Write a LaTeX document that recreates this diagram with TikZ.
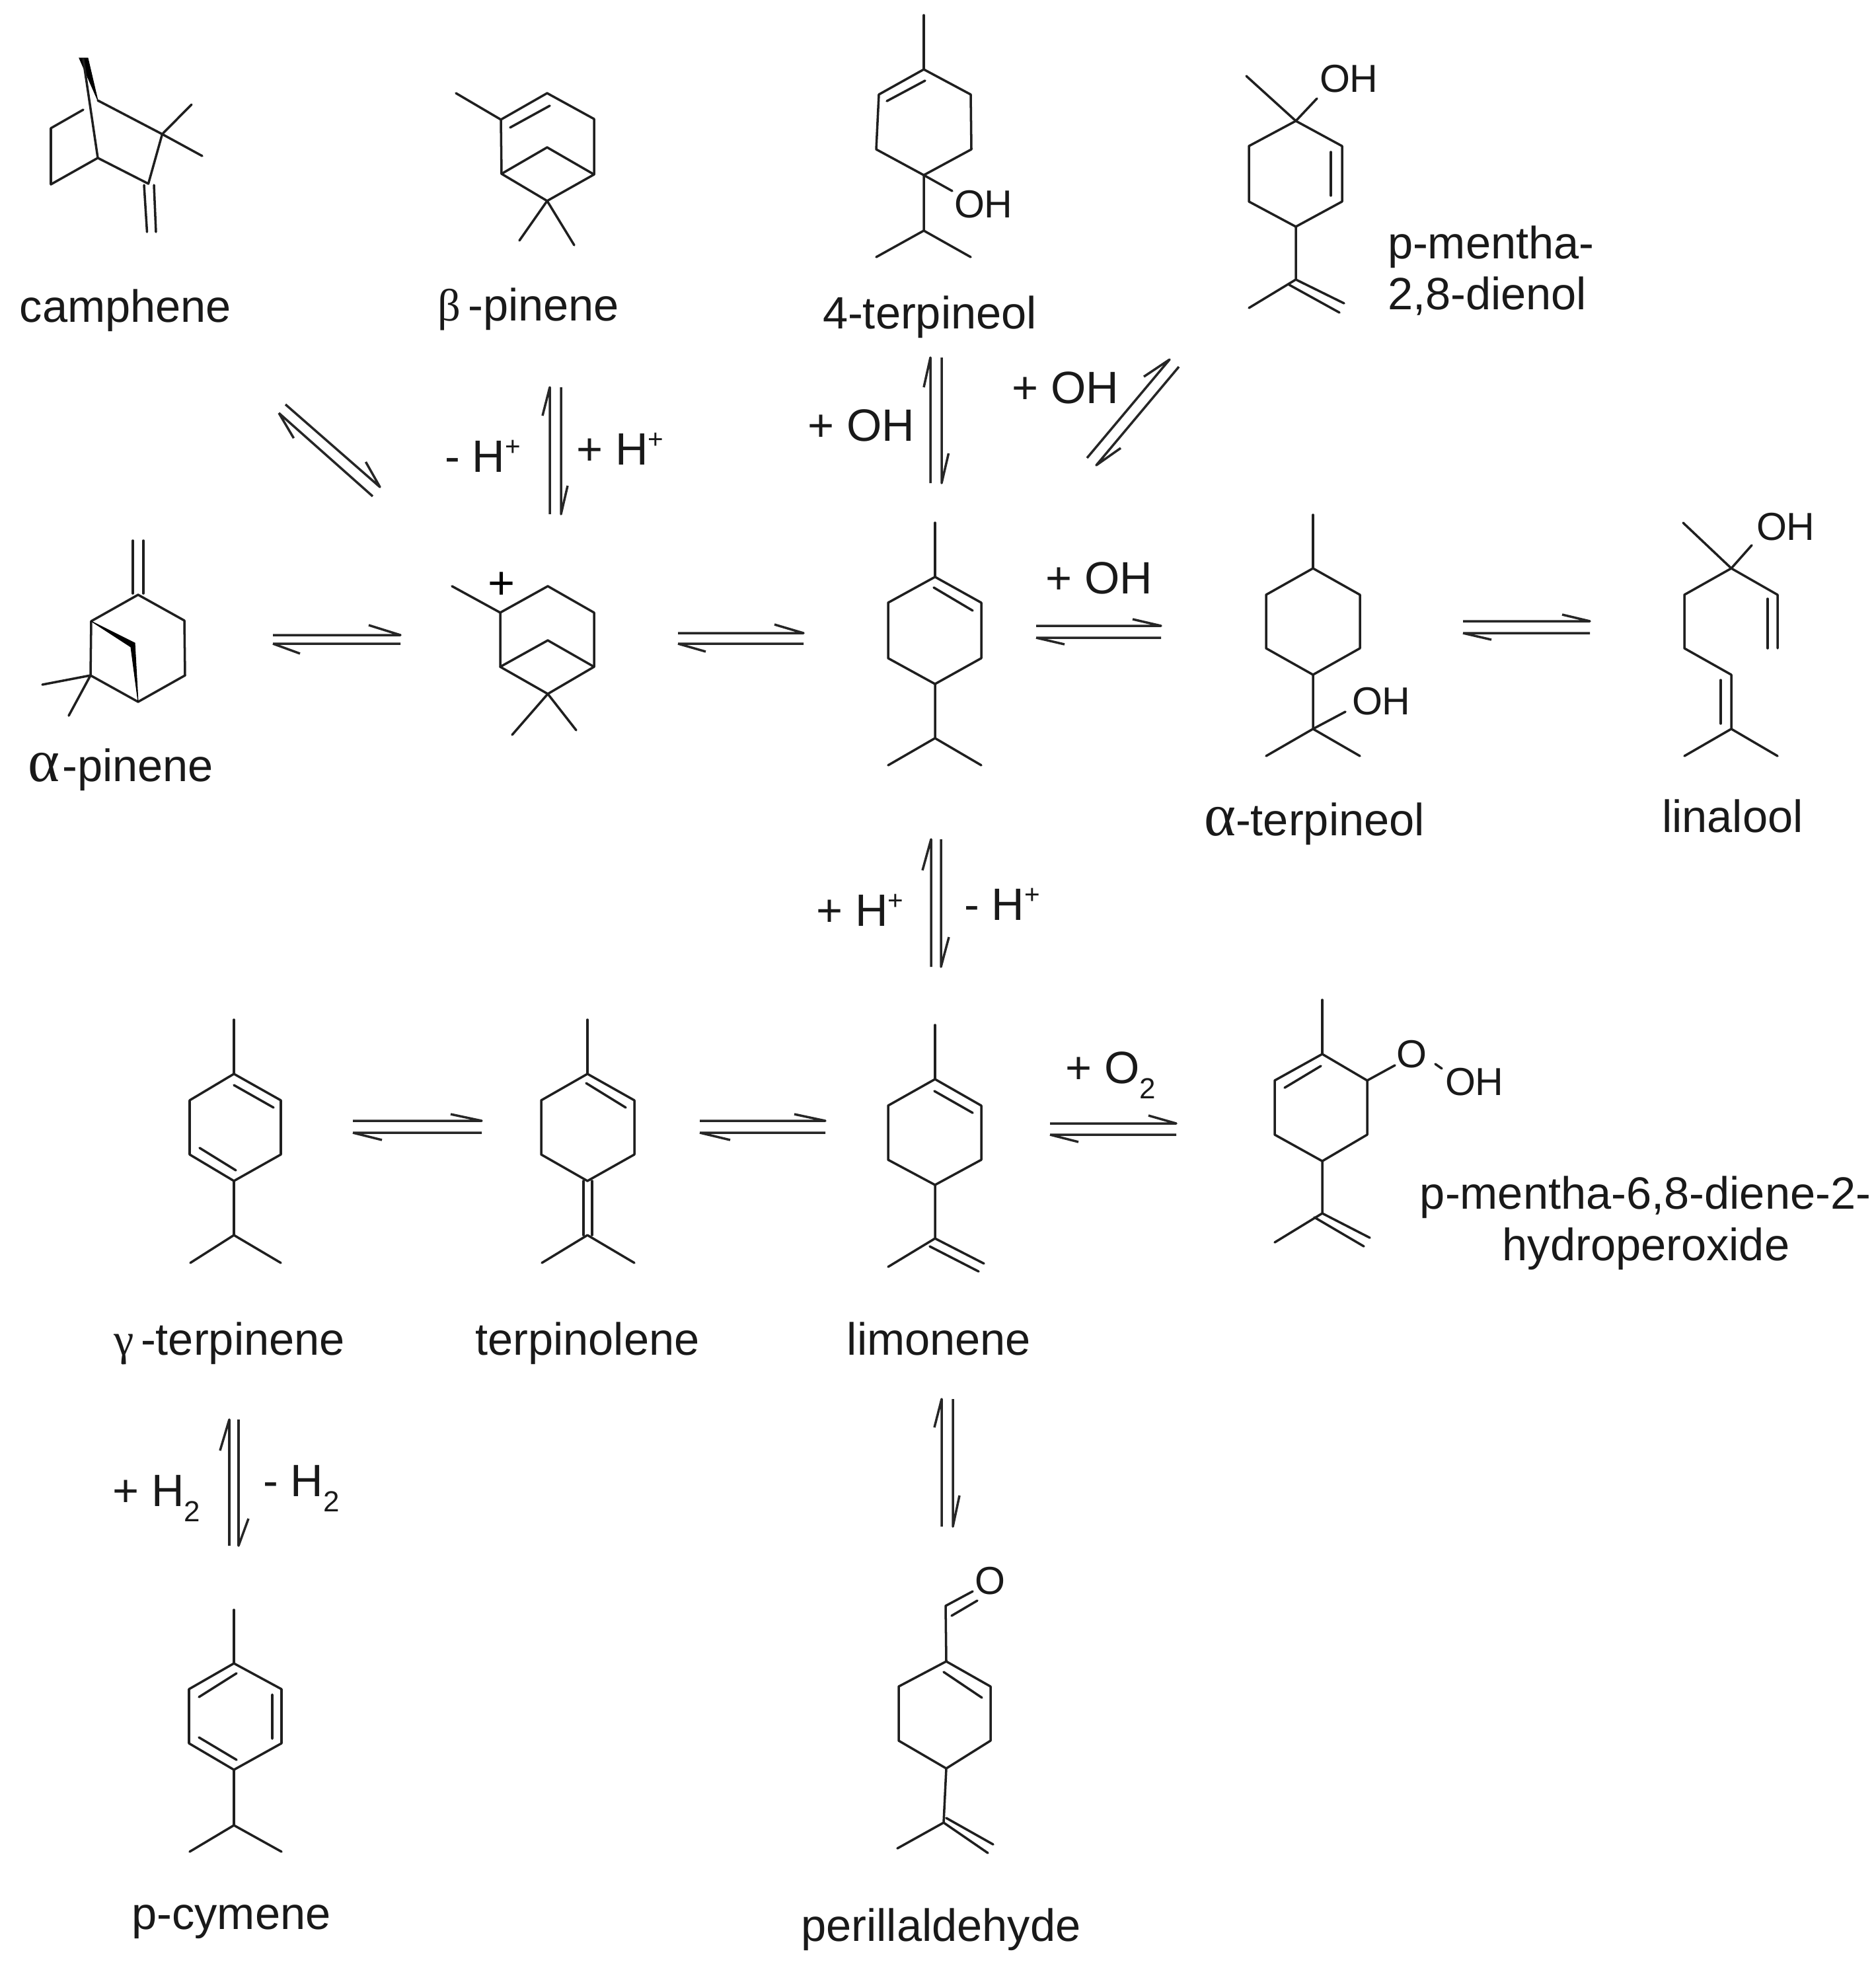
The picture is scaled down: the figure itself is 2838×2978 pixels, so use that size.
\documentclass[tikz,border=0pt]{standalone}
\usepackage{fontspec}
\setmainfont{Liberation Sans}
\newfontfamily\symf{Liberation Serif}
\newcommand{\lsup}[1]{\raisebox{0.36em}{\fontsize{11.5}{12}\selectfont #1}}
\newcommand{\lsub}[1]{\raisebox{-0.34em}{\fontsize{12.5}{13}\selectfont #1}}
\newcommand{\bigsym}[1]{{\fontsize{26}{26}\selectfont\symf #1}}
\tikzset{
  bond/.style={line width=1pt,line join=round,line cap=round,color=black!88},
  eq/.style={line width=1pt,line join=round,line cap=butt,color=black!85},
  wedge/.style={fill=black,draw=black,line width=0.3pt},
  lab/.style={anchor=base,inner sep=0pt,outer sep=0pt,font=\fontsize{19.5}{21}\selectfont,text=black!90},
  labw/.style={lab,anchor=base west},
  atom/.style={lab,font=\fontsize{16.8}{18}\selectfont},
  atomw/.style={atom,anchor=base west}
}
\begin{document}
\begin{tikzpicture}[x=0.01cm,y=-0.01cm]
\useasboundingbox (0,0) rectangle (2838,2978);
% camphene
\fill[wedge] (120,88) -- (133,88) -- (148,152) -- cycle;
\draw[bond] (126,90) -- (148,239) -- (77,279) -- (77,194) -- (126,166);
\draw[bond] (148,152) -- (245.5,203) -- (224.5,278) -- (148,239);
\draw[bond] (290,158) -- (245.5,203) -- (306,236);
\draw[bond] (218,280) -- (222.5,351) (233,280) -- (236,351);
\node[lab] (ncamphene) at (190,487) {camphene};
% beta-pinene
\draw[bond] (690,141) -- (758,181) -- (828,141) -- (899,180) -- (899,264) -- (828,304) -- (759,263) -- (758,181);
\draw[bond] (759,263) -- (828,223) -- (899,264);
\draw[bond] (786,364) -- (828,304) -- (869,371);
\draw[bond] (772,193) -- (832,160);
\node[lab] (nbeta) at (800,485) {{\symf β}\kern3pt-pinene};
% 4-terpineol
\draw[bond] (1398,23) -- (1398,105);
\draw[bond] (1398,105) -- (1469,143) -- (1470,226) -- (1398,265) -- (1326,226) -- (1330,143) -- cycle;
\draw[bond] (1342,153) -- (1400,122);
\draw[bond] (1441,289) -- (1398,265) -- (1398,349) -- (1326,389) (1398,349) -- (1469,389);
\node[atomw] (noh1) at (1444,329) {OH};
\node[lab] (nterp4) at (1407,497) {4-terpineol};
% p-mentha-2,8-dienol
\draw[bond] (1886,115) -- (1961,183) -- (1993,149);
\draw[bond] (1961,183) -- (2031,221) -- (2031,305) -- (1961,343) -- (1890,305) -- (1890,221) -- cycle;
\draw[bond] (2014,230) -- (2014,296);
\draw[bond] (1961,343) -- (1961,423) -- (1890,466) (1961,423) -- (2034,459) (1951,431) -- (2027,473);
\node[atomw] (noh2) at (1997,139) {OH};
\node[labw] (npm1) at (2100,391) {p-mentha-};
\node[labw] (npm2) at (2100,468) {2,8-dienol};
% arrows row 1
\draw[eq] (432,612) -- (575,737) -- (553.5,699) (422,625) -- (564,751) (422,625) -- (444.5,663);
\draw[eq] (821,629) -- (832,586) -- (832,778) (849,586) -- (849,778) -- (859,735);
\node[labw] (nmh) at (673,714) {- H\lsup{+}};
\node[labw] (nph) at (872,703) {+ H\lsup{+}};
\draw[eq] (1398,586) -- (1408,541) -- (1408,731) (1425,541) -- (1425,731) -- (1435.5,686);
\node[labw] (noh3) at (1222,667) {+ OH};
\node[labw] (noh4) at (1531,610) {+ OH};
\draw[eq] (1731,570) -- (1770,544) -- (1645,693) (1784,555) -- (1659,704) -- (1696,678);
% alpha-pinene
\draw[bond] (201,818) -- (201,898) (217,818) -- (217,898);
\draw[bond] (209,900) -- (279,939) -- (280,1022) -- (209,1062) -- (137,1022) -- (138,940) -- cycle;
\fill[wedge] (138,940) -- (204,973) -- (209,1062) -- (198,979) -- cycle;
\draw[bond] (64,1036) -- (137,1022) -- (104,1083);
\node[lab] (nalpha) at (183,1182) {\bigsym{α}\kern1pt-pinene};
\draw[eq] (413,961) -- (606,961) -- (558,946) (413,974) -- (606,974) (413,974) -- (454,989);
% cation
\draw[bond] (684,887) -- (757,927) -- (829,887) -- (899,927) -- (899,1009) -- (829,1050) -- (757,1009) -- (757,927);
\draw[bond] (757,1009) -- (829,969) -- (899,1009);
\draw[bond] (775,1112) -- (829,1050) -- (872,1105);
\node[inner sep=0pt,font=\fontsize{20}{22}\selectfont] (nplus) at (759,886) {+};
\draw[eq] (1026,958) -- (1216,958) -- (1172,945) (1026,974) -- (1216,974) (1026,974) -- (1068,986);
% central
\draw[bond] (1415,791) -- (1415,873);
\draw[bond] (1415,873) -- (1485,912) -- (1485,996) -- (1415,1035) -- (1344,996) -- (1344,912) -- cycle;
\draw[bond] (1413,889) -- (1472,924);
\draw[bond] (1415,1035) -- (1415,1117) -- (1344,1158) (1415,1117) -- (1485,1158);
\draw[eq] (1568,947) -- (1757,947) -- (1714,937) (1568,965) -- (1757,965) (1568,965) -- (1611,975);
\node[labw] (noh5) at (1582,898) {+ OH};
% alpha-terpineol
\draw[bond] (1987,779) -- (1987,860);
\draw[bond] (1987,860) -- (2058,900) -- (2058,981) -- (1987,1021) -- (1916,981) -- (1916,900) -- cycle;
\draw[bond] (1987,1021) -- (1987,1103) -- (1916,1144) (1987,1103) -- (2058,1144) (1987,1103) -- (2036,1077);
\node[atomw] (noh6) at (2046,1081) {OH};
\node[lab] (naterp) at (1989,1264) {\bigsym{α}-terpineol};
\draw[eq] (2214,940) -- (2406,940) -- (2364,930) (2214,958) -- (2406,958) (2214,958) -- (2257,968);
% linalool
\draw[bond] (2547,791) -- (2620,860) -- (2651,825);
\draw[bond] (2620,860) -- (2690,900) -- (2690,981);
\draw[bond] (2675,906) -- (2675,981);
\draw[bond] (2620,860) -- (2549,900) -- (2549,981) -- (2620,1021) -- (2620,1103) -- (2549,1144) (2620,1103) -- (2690,1144);
\draw[bond] (2604,1029) -- (2604,1095);
\node[atomw] (noh7) at (2658,817) {OH};
\node[lab] (nlin) at (2622,1259) {linalool};
% arrow middle
\draw[eq] (1396,1317) -- (1409,1270) -- (1409,1463) (1424,1270) -- (1424,1463) -- (1436,1418);
\node[labw] (nph2) at (1235,1401) {+ H\lsup{+}};
\node[labw] (nmh2) at (1459,1392) {- H\lsup{+}};
% gamma-terpinene
\draw[bond] (354,1543) -- (354,1625);
\draw[bond] (354,1625) -- (425,1665) -- (425,1747) -- (354,1787) -- (287,1747) -- (287,1665) -- cycle;
\draw[bond] (354,1642) -- (414,1676) (302,1737) -- (357,1771);
\draw[bond] (354,1787) -- (354,1869) -- (288,1911) (354,1869) -- (425,1911);
\node[lab] (ngamma) at (347,2050) {{\symf γ}\kern3pt-terpinene};
\draw[eq] (534,1696) -- (729,1696) -- (682,1686) (534,1714) -- (729,1714) (534,1714) -- (578,1725);
% terpinolene
\draw[bond] (889,1543) -- (889,1625);
\draw[bond] (889,1625) -- (960,1665) -- (960,1747) -- (889,1787) -- (819,1747) -- (819,1665) -- cycle;
\draw[bond] (887,1639) -- (947,1676);
\draw[bond] (883,1787) -- (883,1869) (896,1787) -- (896,1869);
\draw[bond] (820,1911) -- (889,1869) -- (960,1911);
\node[lab] (nterpo) at (889,2050) {terpinolene};
\draw[eq] (1059,1696) -- (1249,1696) -- (1202,1686) (1059,1714) -- (1249,1714) (1059,1714) -- (1105,1725);
% limonene
\draw[bond] (1415,1551) -- (1415,1633);
\draw[bond] (1415,1633) -- (1485,1673) -- (1485,1755) -- (1415,1793) -- (1344,1755) -- (1344,1673) -- cycle;
\draw[bond] (1414,1651) -- (1472,1684);
\draw[bond] (1415,1793) -- (1415,1874) -- (1344,1917) (1415,1874) -- (1489,1912) (1407,1886) -- (1481,1924);
\node[lab] (nlim) at (1421,2050) {limonene};
\draw[eq] (1589,1700) -- (1780,1700) -- (1738,1688) (1589,1717) -- (1780,1717) (1589,1717) -- (1632,1728);
\node[labw] (no2) at (1612,1639) {+ O\lsub{2}};
% hydroperoxide
\draw[bond] (2001,1513) -- (2001,1595);
\draw[bond] (2001,1595) -- (2069,1635) -- (2069,1717) -- (2001,1757) -- (1929,1717) -- (1929,1635) -- cycle;
\draw[bond] (1944,1646) -- (1999,1613);
\draw[bond] (2001,1757) -- (2001,1836) -- (1929,1880) (2001,1836) -- (2073,1873) (1989,1842) -- (2064,1886);
\draw[bond] (2069,1635) -- (2111,1612) (2172,1610) -- (2182,1617);
\node[atom] (nO1) at (2136,1615) {O};
\node[atomw] (noh8) at (2187,1657) {OH};
\node[lab] (nhp1) at (2490,1829) {p-mentha-6,8-diene-2-};
\node[lab] (nhp2) at (2491,1907) {hydroperoxide};
% gamma to cymene arrow
\draw[eq] (333,2195) -- (347,2148) -- (347,2339) (361,2148) -- (361,2339) -- (376,2298);
\node[labw] (nh2a) at (170,2279) {+ H\lsub{2}};
\node[labw] (nh2b) at (398,2264) {- H\lsub{2}};
% p-cymene
\draw[bond] (354,2436) -- (354,2517);
\draw[bond] (354,2517) -- (426,2556) -- (426,2638) -- (354,2678) -- (286,2638) -- (286,2556) -- cycle;
\draw[bond] (301,2568) -- (358,2532) (412,2564) -- (412,2631) (301,2629) -- (358,2663);
\draw[bond] (354,2678) -- (354,2762) -- (287,2802) (354,2762) -- (426,2802);
\node[lab] (ncym) at (350,2919) {p-cymene};
% limonene to perillaldehyde
\draw[eq] (1414,2160) -- (1425,2117) -- (1425,2310) (1442,2117) -- (1442,2310) -- (1452,2263);
% perillaldehyde
\draw[bond] (1472,2408) -- (1431,2430) -- (1432,2514) -- (1499,2552) -- (1499,2634) -- (1432,2676) -- (1360,2634) -- (1360,2552) -- (1432,2514);
\draw[bond] (1440,2445) -- (1479,2422) (1428,2530) -- (1486,2569);
\draw[bond] (1432,2676) -- (1428,2758) -- (1358,2797) (1428,2758) -- (1495,2804) (1432,2751) -- (1503,2791);
\node[atom] (nO2) at (1498,2412) {O};
\node[lab] (nper) at (1424,2937) {perillaldehyde};
\end{tikzpicture}
\end{document}
